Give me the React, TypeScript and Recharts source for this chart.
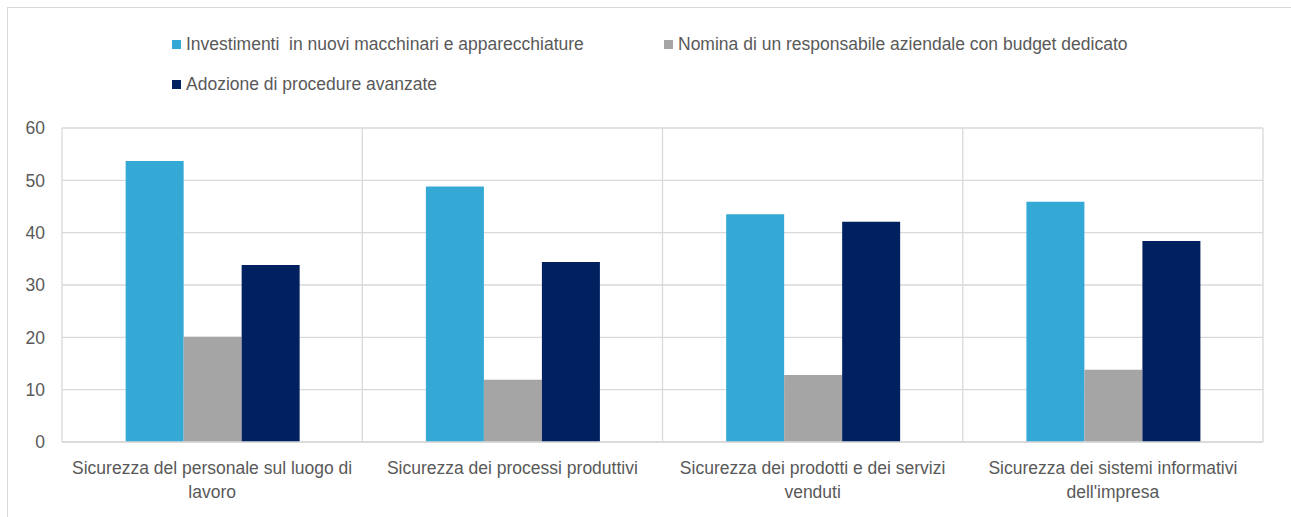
import React from 'react';
import { BarChart, Bar, XAxis, YAxis, CartesianGrid, Legend } from 'recharts';

const categories = [
  'Sicurezza del personale sul luogo di\nlavoro',
  'Sicurezza dei processi produttivi',
  'Sicurezza dei prodotti e dei servizi\nvenduti',
  "Sicurezza dei sistemi informativi\ndell'impresa",
];
const investimenti = [53.7, 48.8, 43.5, 45.9];
const nomina = [20.1, 11.9, 12.8, 13.8];
const procedure = [33.8, 34.4, 42.1, 38.4];
const seriesNames = [
  'Investimenti  in nuovi macchinari e apparecchiature',
  'Nomina di un responsabile aziendale con budget dedicato',
  'Adozione di procedure avanzate',
];
const seriesColors = ['#35A9D5', '#A5A5A5', '#002060'];
const yTicks = [0, 10, 20, 30, 40, 50, 60];

const data = categories.map((c, i) => ({
  name: c,
  s0: investimenti[i],
  s1: nomina[i],
  s2: procedure[i],
}));

const FONT = '"Liberation Sans", Arial, sans-serif';
const FS = 17.5;
const TEXT = '#595959';
const GRID = '#d9d9d9';

const XTick = (props: any) => {
  const { x, y, payload } = props;
  const lines = String(payload.value).split('\n');
  return (
    <text x={x} y={y} textAnchor="middle" fill={TEXT} fontSize={FS} fontFamily={FONT}>
      {lines.map((l: string, i: number) => (
        <tspan key={i} x={x} dy={i === 0 ? 32 : 24} style={{ whiteSpace: 'pre' }}>
          {l}
        </tspan>
      ))}
    </text>
  );
};

const renderLegend = () => (
  <div
    style={{
      display: 'flex',
      flexWrap: 'wrap',
      paddingLeft: 172,
      paddingTop: 34,
      width: 1156,
      boxSizing: 'border-box',
      fontFamily: FONT,
      fontSize: FS,
      color: TEXT,
    }}
  >
    {seriesNames.map((n, i) => (
      <div
        key={i}
        style={{ width: 492, height: 20, display: 'flex', alignItems: 'center', marginBottom: 20 }}
      >
        <span
          style={{ display: 'inline-block', width: 9, height: 9, background: seriesColors[i], marginRight: 5 }}
        />
        <span style={{ whiteSpace: 'pre', lineHeight: '20px' }}>{n}</span>
      </div>
    ))}
  </div>
);

export default function App() {
  return (
    <div style={{ position: 'absolute', left: 0, top: 0, width: 1291, height: 517, background: '#fff', overflow: 'hidden' }}>
      <div
        style={{
          position: 'absolute',
          left: 7,
          top: 7,
          width: 1284,
          height: 510,
          borderTop: `1px solid ${GRID}`,
          borderLeft: `1px solid ${GRID}`,
          boxSizing: 'border-box',
        }}
      />
      <div style={{ position: 'absolute', left: 0, top: 0 }}>
        <BarChart
          width={1291}
          height={517}
          data={data}
          margin={{ top: 128, right: 28, bottom: 0, left: 12 }}
          barCategoryGap="21.2%"
          barGap={0}
        >
          <CartesianGrid
            stroke={GRID}
            strokeWidth={1.3}
            verticalCoordinatesGenerator={({ offset }: any) =>
              [0, 1, 2, 3, 4].map((i) => offset.left + (i * offset.width) / categories.length)
            }
          />
          <XAxis
            dataKey="name"
            height={75}
            axisLine={{ stroke: GRID, strokeWidth: 1.3 }}
            tickLine={false}
            tickSize={0}
            tickMargin={0}
            interval={0}
            tick={<XTick />}
          />
          <YAxis
            width={50}
            domain={[0, 60]}
            ticks={yTicks}
            axisLine={false}
            tickLine={false}
            tickSize={0}
            tickMargin={17}
            tick={{ fill: TEXT, fontSize: FS, fontFamily: FONT }}
          />
          <Legend
            layout="horizontal"
            verticalAlign="middle"
            align="center"
            wrapperStyle={{ position: 'absolute', top: 0, left: 0, width: 1291, height: 110 }}
            content={renderLegend}
          />
          <Bar dataKey="s0" name={seriesNames[0]} fill={seriesColors[0]} isAnimationActive={false} />
          <Bar dataKey="s1" name={seriesNames[1]} fill={seriesColors[1]} isAnimationActive={false} />
          <Bar dataKey="s2" name={seriesNames[2]} fill={seriesColors[2]} isAnimationActive={false} />
        </BarChart>
      </div>
    </div>
  );
}
